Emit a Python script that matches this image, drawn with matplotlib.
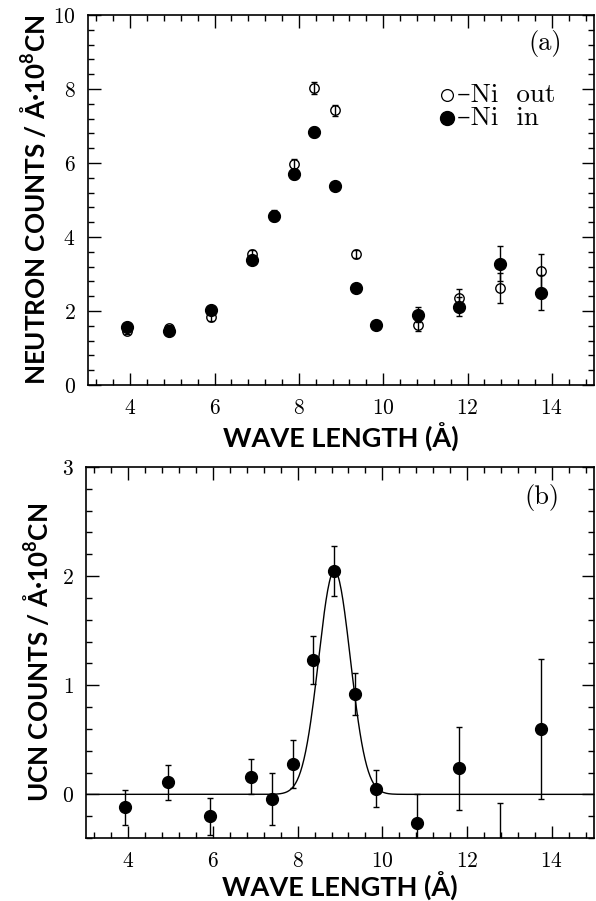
import numpy as np
import matplotlib
matplotlib.use("Agg")
import matplotlib.pyplot as plt
from matplotlib.ticker import MultipleLocator

plt.rcParams['font.family'] = ['cmr10', 'DejaVu Serif']
plt.rcParams['axes.unicode_minus'] = False
plt.rcParams['axes.formatter.use_mathtext'] = True
plt.rcParams['mathtext.fontset'] = 'custom'
plt.rcParams['mathtext.rm'] = 'Lato:bold'
plt.rcParams['mathtext.bf'] = 'Lato:bold'

# ---- data: panel (a) ----
wl_a = [3.93, 4.93, 5.92, 6.90, 7.40, 7.88, 8.37, 8.86, 9.35, 9.84, 10.83, 11.80, 12.78, 13.75]
ni_out = [1.47, 1.55, 1.83, 3.55, 4.60, 5.97, 8.03, 7.43, 3.55, 1.63, 1.62, 2.35, 2.62, 3.08]
ni_out_err = [0.08, 0.08, 0.09, 0.11, 0.13, 0.14, 0.16, 0.15, 0.11, 0.09, 0.17, 0.25, 0.40, 0.45]
ni_in = [1.57, 1.45, 2.03, 3.38, 4.57, 5.70, 6.83, 5.38, 2.62, 1.62, 1.90, 2.12, 3.28, 2.50]
ni_in_err = [0.08, 0.08, 0.09, 0.11, 0.13, 0.14, 0.14, 0.12, 0.09, 0.09, 0.20, 0.26, 0.47, 0.48]

# ---- data: panel (b) ----
wl_b = [3.93, 4.93, 5.92, 6.90, 7.40, 7.88, 8.37, 8.86, 9.35, 9.84, 10.83, 11.80, 12.78, 13.75]
ucn = [-0.12, 0.11, -0.20, 0.16, -0.04, 0.28, 1.23, 2.05, 0.92, 0.05, -0.26, 0.24, -0.60, 0.60]
ucn_err = [0.16, 0.16, 0.17, 0.16, 0.24, 0.22, 0.22, 0.23, 0.19, 0.17, 0.26, 0.38, 0.52, 0.64]

# Gaussian fit parameters
fit_amp, fit_mu, fit_sigma, fit_base = 2.05, 8.87, 0.375, 0.0

x_ticks = [4, 6, 8, 10, 12, 14]
ya_ticks = [0, 2, 4, 6, 8, 10]
yb_ticks = [0, 1, 2, 3]
legend_labels = ['–Ni  out', '–Ni  in']

W, H = 596, 901
fig = plt.figure(figsize=(W / 100, H / 100), dpi=100)

def ax_rect(l, r, t, b):
    return [l / W, 1 - b / H, (r - l) / W, (b - t) / H]

axA = fig.add_axes(ax_rect(88, 594, 15, 385))
axB = fig.add_axes(ax_rect(86, 594, 467, 838))

xlabel_font = dict(family='Lato', fontsize=19.5, fontweight='bold')
ylabel_font = dict(family='Lato', fontsize=18.7, fontweight='bold')

for ax in (axA, axB):
    ax.set_xlim(3.0, 15.0)
    ax.xaxis.set_major_locator(MultipleLocator(2))
    ax.xaxis.set_minor_locator(MultipleLocator(0.4))
    ax.tick_params(which='both', direction='in', top=True, right=True, width=1.0, colors='black')
    ax.tick_params(which='major', length=9, labelsize=15.5, pad=9)
    ax.tick_params(which='minor', length=4.5)
    ax.tick_params(axis='x', which='major', pad=10)
    for s in ax.spines.values():
        s.set_linewidth(1.2)
    ax.set_xticks(x_ticks)

axA.set_xlabel('WAVE LENGTH (Å)', **xlabel_font, labelpad=3)
axB.set_xlabel('WAVE LENGTH (Å)', **xlabel_font, labelpad=0)

# panel (a)
axA.set_ylim(0, 10)
axA.set_yticks(ya_ticks)
axA.yaxis.set_minor_locator(MultipleLocator(0.4))
axA.errorbar(wl_a, ni_out, yerr=ni_out_err, fmt='o', ms=6.8, mfc='none', mec='black',
             mew=1.0, ecolor='black', elinewidth=1.0, capsize=2.5, capthick=1.0, zorder=3)
axA.errorbar(wl_a, ni_in, yerr=ni_in_err, fmt='o', ms=8.5, mfc='black', mec='black',
             ecolor='black', elinewidth=1.0, capsize=2.5, capthick=1.0, zorder=4)
axA.set_ylabel('NEUTRON COUNTS / Å·10$^{8}$CN', **ylabel_font, labelpad=2.5)
axA.text(0.937, 0.922, '(a)', transform=axA.transAxes, ha='right', va='center', fontsize=19)

# legend keys (manual, in axes coordinates)
axA.plot([0.709], [0.784], transform=axA.transAxes, ls='none', marker='o', ms=8.5,
         mfc='none', mec='black', mew=0.9, clip_on=False)
axA.plot([0.709], [0.722], transform=axA.transAxes, ls='none', marker='o', ms=10,
         mfc='black', mec='black', clip_on=False)
axA.text(0.729, 0.784, legend_labels[0], transform=axA.transAxes, ha='left', va='center',
         fontsize=19.5)
axA.text(0.729, 0.722, legend_labels[1], transform=axA.transAxes, ha='left', va='center',
         fontsize=19.5)

# panel (b)
axB.set_ylim(-0.4, 3.0)
axB.set_yticks(yb_ticks)
axB.yaxis.set_minor_locator(MultipleLocator(0.2))
xf = np.linspace(3.0, 15.0, 600)
axB.plot(xf, fit_base + fit_amp * np.exp(-(xf - fit_mu) ** 2 / (2 * fit_sigma ** 2)),
         color='black', lw=1.0, zorder=2)
axB.errorbar(wl_b, ucn, yerr=ucn_err, fmt='o', ms=8.5, mfc='black', mec='black',
             ecolor='black', elinewidth=1.0, capsize=2.5, capthick=1.0, zorder=4)
axB.set_ylabel('UCN COUNTS / Å·10$^{8}$CN', **ylabel_font, labelpad=7)
axB.text(0.933, 0.919, '(b)', transform=axB.transAxes, ha='right', va='center', fontsize=19)

fig.savefig('out.png', dpi=100)
